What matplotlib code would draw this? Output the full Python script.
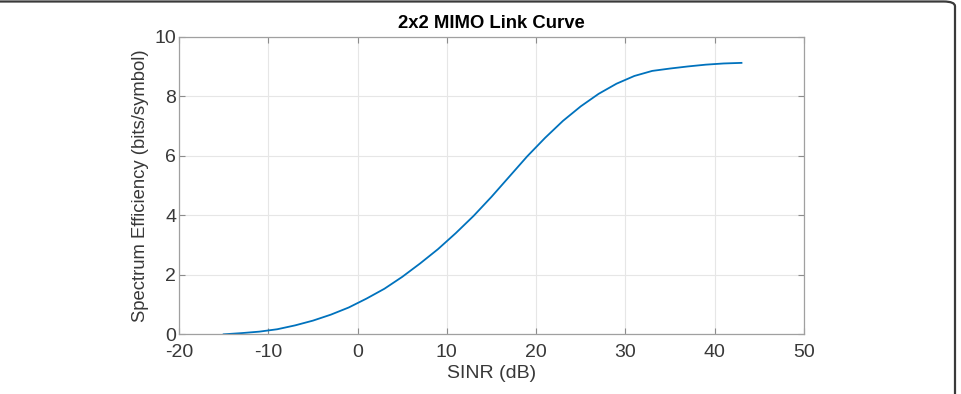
import matplotlib.pyplot as plt
from matplotlib.patches import FancyBboxPatch

# SINR (dB) vs spectrum efficiency
sinr = [-15, -13, -11, -9, -7, -5, -3, -1, 1, 3, 5, 7, 9, 11, 13, 15,
        17, 19, 21, 23, 25, 27, 29, 31, 33, 35, 37, 39, 41, 43]
efficiency = [0.0, 0.04, 0.09, 0.17, 0.30, 0.46, 0.66, 0.90, 1.20, 1.53,
              1.93, 2.38, 2.86, 3.40, 3.98, 4.62, 5.30, 5.98, 6.60, 7.17,
              7.66, 8.08, 8.42, 8.68, 8.85, 8.93, 9.00, 9.06, 9.10, 9.12]

xticks = [-20, -10, 0, 10, 20, 30, 40, 50]
yticks = [0, 2, 4, 6, 8, 10]

plt.rcParams['font.family'] = ['Liberation Sans', 'DejaVu Sans']
plt.rcParams['axes.unicode_minus'] = False
text_col = "#383838"

fig = plt.figure(figsize=(9.61, 3.94), dpi=100)
ax = fig.add_axes([0.1863, 0.1515, 0.6503, 0.7554])

ax.plot(sinr, efficiency, color="#0072BD", lw=1.3)

ax.set_xlim(-20, 50)
ax.set_ylim(0, 10)
ax.set_xticks(xticks)
ax.set_yticks(yticks)
ax.tick_params(direction="in", top=True, right=True, length=4,
               color="#8c8c8c", labelcolor=text_col, labelsize=14)
ax.tick_params(axis="x", pad=7)
ax.tick_params(axis="y", pad=2)
ax.grid(True, color="#e6e6e6", lw=0.8)
for s in ax.spines.values():
    s.set_color("#a0a0a0")
    s.set_linewidth(0.9)

ax.set_xlabel("SINR (dB)", fontsize=14, color=text_col, labelpad=3)
ax.set_ylabel("Spectrum Efficiency (bits/symbol)", fontsize=13.3,
              color=text_col, labelpad=4)
ax.set_title("2x2 MIMO Link Curve", fontsize=13.3, fontweight="bold",
             color="black", pad=6)

# rounded frame around the figure
frame = FancyBboxPatch((-0.05, -0.1), 0.05 + 955 / 961, 0.1 + 1 - 1.5 / 394,
                       boxstyle="round,pad=0,rounding_size=0.012",
                       transform=fig.transFigure, fill=False,
                       edgecolor="#3a3a3a", lw=1.6, clip_on=False)
fig.patches.append(frame)

fig.savefig("out.png", dpi=100)
